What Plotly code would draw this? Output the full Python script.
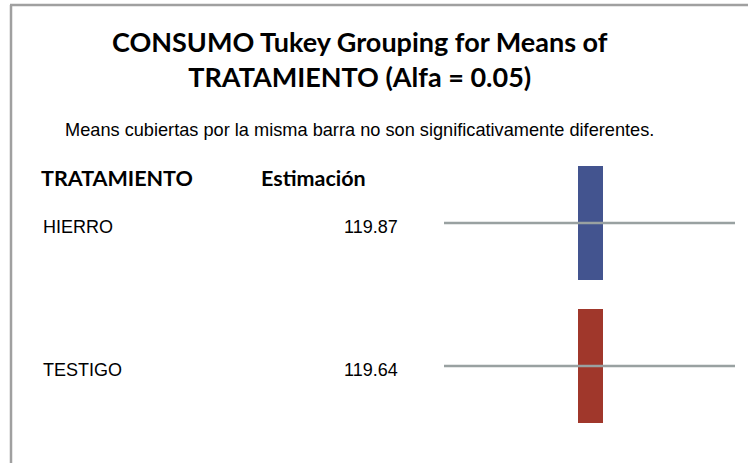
import plotly.graph_objects as go

# ---- data ----
treatments = ["HIERRO", "TESTIGO"]
estimates = [119.87, 119.64]
groups = ["A", "A"]
bar_colors = ["#43548F", "#A0372B"]

title_text = "CONSUMO Tukey Grouping for Means of<br>TRATAMIENTO (Alfa = 0.05)"
subtitle_text = "Means cubiertas por la misma barra no son significativamente diferentes."
header_labels = ["TRATAMIENTO", "Estimación"]

W, H = 748, 463
rows = list(range(len(treatments)))

fig = go.Figure()

# row lines
for r in rows:
    fig.add_trace(go.Scatter(x=[444, 735], y=[r, r], mode="lines",
                             line=dict(color="#99A1A1", width=2.5),
                             hoverinfo="skip", showlegend=False))

# group bars (one column for group "A")
group_col = {"A": 590.5}
fig.add_trace(go.Bar(
    y=rows, x=[25] * len(rows),
    base=[group_col[g] - 12.5 for g in groups],
    orientation="h", width=0.8,
    marker=dict(color=bar_colors, line=dict(width=0)),
    hoverinfo="skip", showlegend=False))

annotations = []
for r, name, est in zip(rows, treatments, estimates):
    annotations.append(dict(x=41, y=r + 0.028, xref="x", yref="y", text=name, showarrow=False,
                            xanchor="left", yanchor="middle",
                            font=dict(family="Liberation Sans, Arial", size=18, color="#000")))
    annotations.append(dict(x=400, y=r + 0.028, xref="x", yref="y", text=f"{est:.2f}", showarrow=False,
                            xanchor="right", yanchor="middle",
                            font=dict(family="Liberation Sans, Arial", size=18, color="#000")))

annotations.append(dict(x=39, y=-0.315, xref="x", yref="y", text=f"<b>{header_labels[0]}</b>",
                        showarrow=False, xanchor="left", yanchor="middle",
                        font=dict(family="Lato", size=21.5, color="#000")))
annotations.append(dict(x=259, y=-0.315, xref="x", yref="y", text=f"<b>{header_labels[1]}</b>",
                        showarrow=False, xanchor="left", yanchor="middle",
                        font=dict(family="Lato", size=21.5, color="#000")))
annotations.append(dict(x=359, y=-0.65, xref="x", yref="y", text=subtitle_text,
                        showarrow=False, xanchor="center", yanchor="middle",
                        font=dict(family="Liberation Sans, Arial", size=18.2, color="#000")))
annotations.append(dict(x=360, y=1 - 59 / H, xref="x", yref="paper", text=f"<b>{title_text}</b>",
                        showarrow=False, xanchor="center", yanchor="middle",
                        font=dict(family="Lato", size=27, color="#000")))

shapes = [
    dict(type="line", xref="paper", yref="paper", x0=10 / W, x1=1, y0=1 - 5 / H, y1=1 - 5 / H,
         line=dict(color="#A0A0A0", width=2.5)),
    dict(type="line", xref="paper", yref="paper", x0=11 / W, x1=11 / W, y0=0, y1=1 - 5 / H,
         line=dict(color="#A0A0A0", width=2.5)),
]

fig.update_layout(
    width=W, height=H, margin=dict(l=0, r=0, t=0, b=0),
    paper_bgcolor="white", plot_bgcolor="white",
    xaxis=dict(range=[0, W], visible=False, fixedrange=True),
    yaxis=dict(range=[1 + (H - 366) / 143, -223 / 143], visible=False, fixedrange=True),
    annotations=annotations, shapes=shapes, bargap=0,
)

fig.write_html("out.html", config={"displayModeBar": False},
               post_script="document.body.style.margin='0';document.body.style.overflow='hidden';")
